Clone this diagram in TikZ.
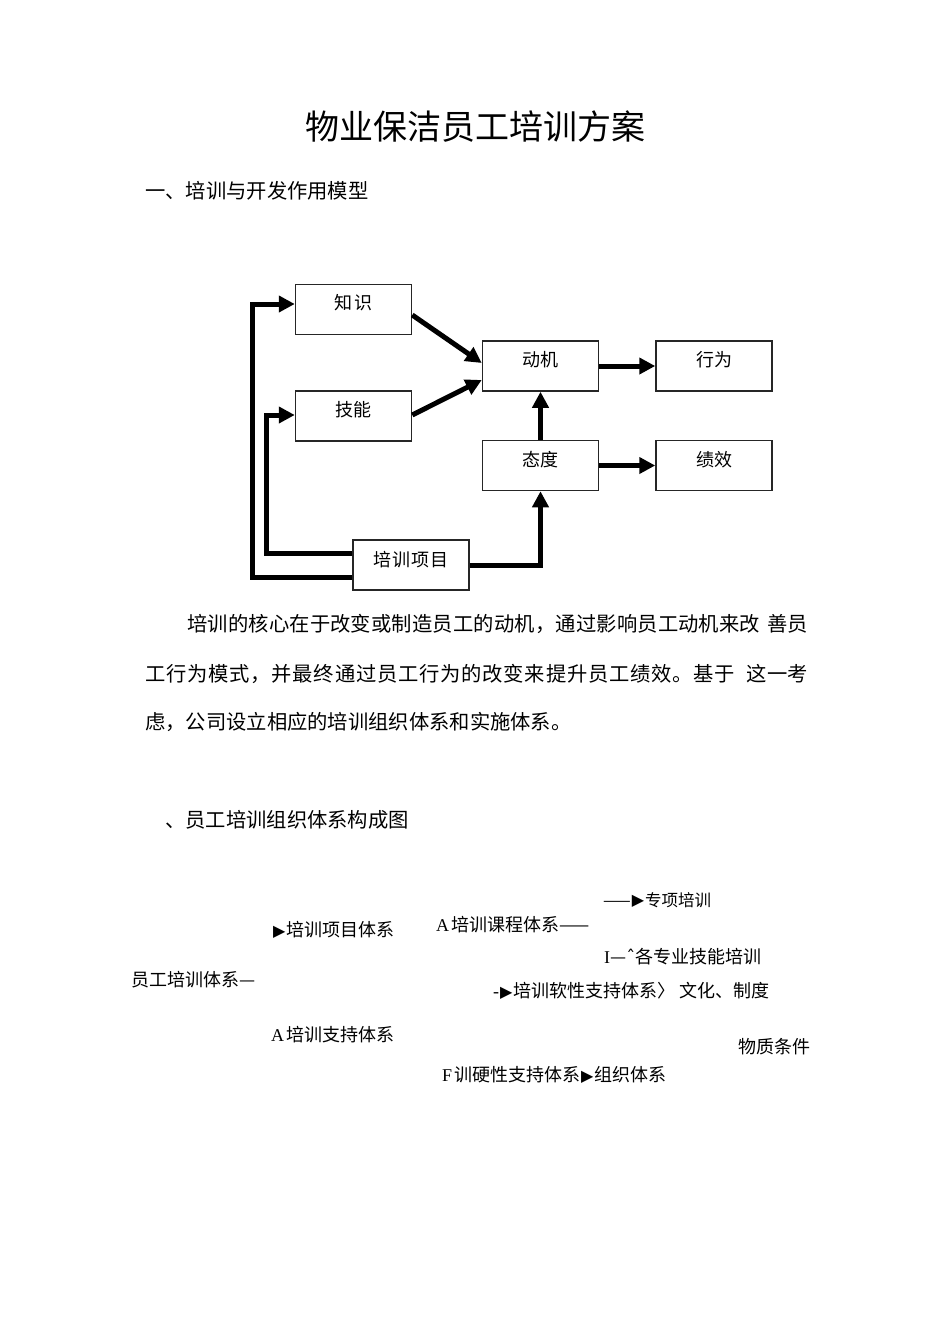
\documentclass[tikz,border=0pt]{standalone}
\usepackage{fontspec}
\newfontfamily\cjk{Noto Sans CJK SC}
\newfontfamily\sym{DejaVu Sans}
\newfontfamily\lat{Liberation Serif}
\usetikzlibrary{arrows.meta,calc}
\makeatletter
\newcommand\spreadtext[2]{\makebox[#1][s]{\@tfor\sp@tok:=#2\do{\sp@tok\hfill}\unskip}}
\makeatother
\newcommand\tri{\hspace{1pt}\raisebox{0.5pt}{\sym\fontsize{16pt}{18pt}\selectfont ▶}\hspace{1pt}}
\tikzset{
  box/.style={draw=black!85, line width=1.5pt, minimum width=116pt, minimum height=50pt, inner sep=0pt},
  arr/.style={line width=5pt, -{Triangle[length=16pt,width=16pt]}},
  blbl/.style={font=\cjk\fontsize{18pt}{20pt}\selectfont, inner sep=0pt},
  ptxt/.style={font=\cjk\fontsize{20.3pt}{24pt}\selectfont, inner sep=0pt, anchor=west},
  stxt/.style={font=\cjk\fontsize{18pt}{20pt}\selectfont, inner sep=0pt, anchor=west},
}
\begin{document}
\begin{tikzpicture}[x=1pt,y=-1pt]
\fill[white] (0,0) rectangle (950,1344);
\useasboundingbox (0,0) rectangle (950,1344);

% title and headings
\node[font=\cjk\fontsize{34pt}{40pt}\selectfont, inner sep=0pt] (title) at (475,127) {物业保洁员工培训方案};
\node[ptxt] (h1) at (145,191) {一、培训与开发作用模型};

% diagram boxes
\node[box] (zs) at (353.5,309.5) {};
\node[box] (jn) at (353.5,416) {};
\node[box] (dj) at (540.5,366) {};
\node[box] (xw) at (714,366) {};
\node[box] (td) at (540.5,465.5) {};
\node[box] (jx) at (714,465.5) {};
\node[box] (px) at (411,565) {};

\node[blbl] (zsl) at ($(zs.center)+(0,-6.5)$) {知\hspace{3pt}识};
\node[blbl] (jnl) at ($(jn.center)+(0,-6)$) {技能};
\node[blbl] (djl) at ($(dj.center)+(0,-6)$) {动机};
\node[blbl] (xwl) at ($(xw.center)+(0,-6)$) {行为};
\node[blbl] (tdl) at ($(td.center)+(0,-6)$) {态度};
\node[blbl] (jxl) at ($(jx.center)+(0,-6)$) {绩效};
\node[blbl] (pxl) at ($(px.center)+(0,-5)$) {培\hspace{1pt}训\hspace{1pt}项\hspace{1pt}目};

% connectors
\draw[arr] ($(zs.east)+(0,5.5)$) -- ($(dj.west)+(0,-3)$);
\draw[arr] ($(jn.east)+(0,-1)$) -- ($(dj.west)+(0,14)$);
\draw[arr] (dj.east) -- (xw.west);
\draw[arr] (td.east) -- (jx.west);
\draw[arr] (td.north) -- (dj.south);
\draw[arr] (px.east) -| (td.south);
\draw[arr] ($(px.west)+(0,12)$) -- ++(-100,0) |- ($(zs.west)+(0,-5.5)$);
\draw[arr] ($(px.west)+(0,-12)$) -- ++(-86,0) |- ($(jn.west)+(0,-1)$);

% paragraph
\node[ptxt] (p1a) at (187,624) {\spreadtext{573pt}{培训的核心在于改变或制造员工的动机，通过影响员工动机来改}};
\node[ptxt, anchor=east] (p1b) at (808,624) {善员};
\node[ptxt] (p2a) at (145,674) {\spreadtext{590pt}{工行为模式，并最终通过员工行为的改变来提升员工绩效。基于}};
\node[ptxt, anchor=east] (p2b) at (808,674) {这一考};
\node[ptxt] (p3) at (145,722) {虑，公司设立相应的培训组织体系和实施体系。};

\node[ptxt] (h2) at (165,820) {、员工培训组织体系构成图};

% organisation list
\node[stxt, font=\cjk\fontsize{16.5pt}{18pt}\selectfont] (b1) at (603,900) {——\tri 专项培训};
\node[stxt] (b2) at (272,930) {\tri 培训项目体系};
\node[stxt] (b3) at (436,925) {{\lat A}\hspace{2pt}培训课程体系——};
\node[stxt] (b4) at (604,957) {{\lat I}—{\sym ˆ}各专业技能培训};
\node[stxt] (b5) at (131,980) {员工培训体系—};
\node[stxt] (b6) at (493,991) {{\lat -}\tri 培训软性支持体系〉 文化、制度};
\node[stxt] (b7) at (271,1035) {{\lat A}\hspace{2pt}培训支持体系};
\node[stxt] (b8) at (738,1047) {物质条件};
\node[stxt] (b9) at (442,1075) {{\lat F}\hspace{2pt}训硬性支持体系\tri 组织体系};
\end{tikzpicture}
\end{document}
